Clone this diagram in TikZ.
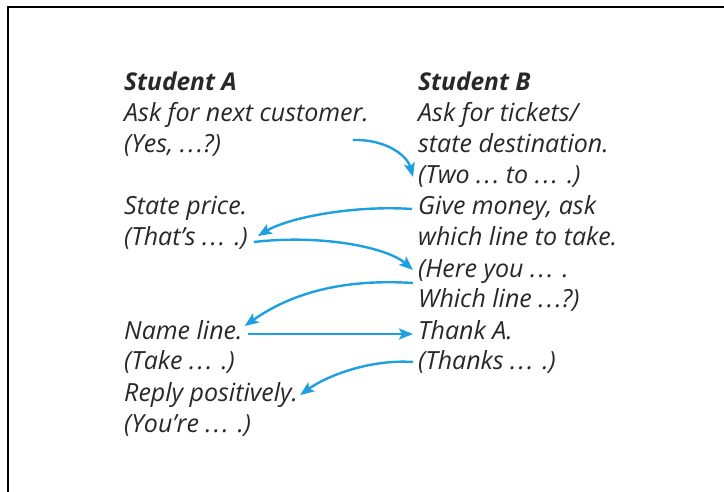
\documentclass[tikz,border=0pt]{standalone}
\usepackage{fontspec}
\setmainfont{Open Sans}
\usetikzlibrary{arrows.meta,calc}
\definecolor{arrowblue}{RGB}{29,160,225}
\definecolor{txt}{RGB}{40,40,40}
\newcommand{\dd}{.\kern2.2pt.\kern2.2pt.}
\newcommand{\ddp}{\dd\hspace{9pt}.}
\tikzset{
  txtline/.style={anchor=base west,inner sep=0pt,font=\fontsize{25}{29}\selectfont\itshape,text=txt},
  headline/.style={txtline,font=\fontsize{24.5}{29}\selectfont\bfseries\itshape},
  conn/.style={draw=arrowblue,line width=2.4pt,-{Stealth[length=14pt,width=11pt,inset=3pt]}},
  frameline/.style={line width=2.5pt,black}
}
\begin{document}
\begin{tikzpicture}[x=1pt,y=-1pt]
\useasboundingbox (0,0) rectangle (724,492);
\draw[frameline] (8,492) -- (8,7) -- (724,7);
% left column
\node[headline] (a0) at (124,91) {Student A};
\node[txtline] (a1) at (124,122) {Ask for next customer.};
\node[txtline] (a2) at (124,153) {(Yes, \dd?)};
\node[txtline] (a4) at (124,215) {State price.};
\node[txtline] (a5) at (124,246) {(That’s \ddp)};
\node[txtline] (a8) at (124,339) {Name line.};
\node[txtline] (a9) at (124,370) {(Take \ddp)};
\node[txtline] (a10) at (124,401) {Reply positively.};
\node[txtline] (a11) at (124,432) {(You’re \ddp)};
% right column
\node[headline] (b0) at (418,91) {Student B};
\node[txtline] (b1) at (418,122) {Ask for tickets/};
\node[txtline] (b2) at (418,153) {state destination.};
\node[txtline] (b3) at (418,184) {(Two \dd\ to \ddp)};
\node[txtline] (b4) at (418,215) {Give money, ask};
\node[txtline] (b5) at (418,246) {which line to take.};
\node[txtline] (b6) at (418,277) {(Here you \ddp};
\node[txtline] (b7) at (418,308) {Which line \dd?)};
\node[txtline] (b8) at (418,339) {Thank A.};
\node[txtline] (b9) at (418,370) {(Thanks \ddp)};
% connectors
\draw[conn] ($(a1.base east)+(-16,18)$) .. controls +(32,-1) and +(-6,-22) .. ($(b3.base west)+(-5,-7)$);
\draw[conn] ($(b4.base west)+(-6,-6)$) .. controls +(-60,-4) and +(30,-18) .. ($(a5.base east)+(10,-10)$);
\draw[conn] ($(a5.base east)+(6,-4)$) .. controls +(70,-8) and +(-25,-22) .. ($(b6.base west)+(-5,-7)$);
\draw[conn] ($(b6.base west)+(-5,6)$) .. controls +(-80,-5) and +(40,-28) .. ($(a8.base east)+(2,-13)$);
\draw[conn] ($(a8.base east)+(5,-5)$) -- ($(b8.base west)+(-5,-5)$);
\draw[conn] ($(b9.base west)+(-5,-8)$) .. controls +(-45,-3) and +(25,-18) .. ($(a10.base east)+(2,-6)$);
\end{tikzpicture}
\end{document}
